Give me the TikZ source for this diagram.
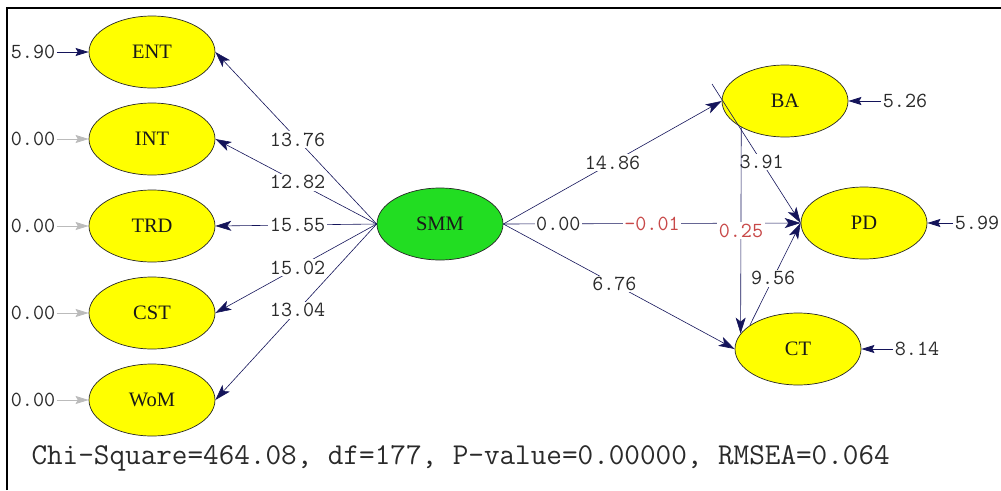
\documentclass[tikz,border=0pt]{standalone}
\usepackage{fontspec}
\usepackage{tikz}
\usetikzlibrary{arrows.meta, shapes.geometric, positioning}
\newfontfamily\latfont{Liberation Serif}
\definecolor{navy}{HTML}{14145A}
\definecolor{lisyellow}{HTML}{FFFF00}
\definecolor{lisgreen}{HTML}{22DD22}
\definecolor{labgray}{HTML}{2A2A2A}
\definecolor{nsred}{HTML}{C84848}
\definecolor{errgray}{HTML}{BBBBBB}

\tikzset{
  latent/.style={ellipse, draw=black!85, line width=0.7pt, fill=lisyellow,
    minimum width=126pt, minimum height=72pt, inner sep=0pt,
    font=\latfont\fontsize{20.5}{22}\selectfont, text=black!90},
  coef/.style={fill=white, inner sep=1.5pt, text=labgray,
    font=\ttfamily\fontsize{21.5}{23}\selectfont},
  pathline/.style={draw=navy, line width=0.6pt, -{Stealth[length=16pt,width=10pt,inset=4pt]}},
  errline/.style={draw=navy, line width=0.9pt, -{Stealth[length=13pt,width=8pt,inset=2pt]}},
  zeroline/.style={errline, draw=errgray}
}

\begin{document}
\begin{tikzpicture}[x=1pt, y=-1pt]
  \useasboundingbox (0,0) rectangle (1001,490);
  % frame
  \draw[line width=2pt] (7,490) -- (7,8) -- (1001,8);

  % exogenous side
  \node[latent] (ENT) at (152,52) {ENT};
  \node[latent] (INT) at (152,139) {INT};
  \node[latent] (TRD) at (152,226) {TRD};
  \node[latent] (CST) at (152,313) {CST};
  \node[latent] (WoM) at (152,400) {WoM};
  \node[latent, fill=lisgreen] (SMM) at (440,224) {SMM};

  % endogenous side
  \node[latent] (BA) at (785,101) {BA};
  \node[latent] (PD) at (864,223) {PD};
  \node[latent] (CT) at (798,349) {CT};

  % error terms
  \node[coef] (eENT) at (33,52) {5.90};
  \node[coef] (eINT) at (33,139) {0.00};
  \node[coef] (eTRD) at (33,226) {0.00};
  \node[coef] (eCST) at (33,313) {0.00};
  \node[coef] (eWoM) at (33,400) {0.00};
  \node[coef] (eBA) at (905,101) {5.26};
  \node[coef] (ePD) at (977,223) {5.99};
  \node[coef] (eCT) at (917,349) {8.14};

  \draw[errline] (eENT) -- (ENT);
  \draw[zeroline] (eINT) -- (INT);
  \draw[zeroline] (eTRD) -- (TRD);
  \draw[zeroline] (eCST) -- (CST);
  \draw[zeroline] (eWoM) -- (WoM);
  \draw[errline] (eBA) -- (BA);
  \draw[errline] (ePD) -- (PD);
  \draw[errline] (eCT) -- (CT);

  % SMM to its dimensions
  \draw[pathline] (SMM.west) -- node[coef, pos=0.49] {13.76} (ENT.east);
  \draw[pathline] (SMM.west) -- node[coef, pos=0.49] {12.82} (INT.east);
  \draw[pathline] (SMM.west) -- node[coef, pos=0.49] {15.55} (TRD.east);
  \draw[pathline] (SMM.west) -- node[coef, pos=0.49] {15.02} (CST.east);
  \draw[pathline] (SMM.west) -- node[coef, pos=0.49] {13.04} (WoM.east);

  % structural paths
  \coordinate (BAtail) at (712,84);
  \draw[pathline] (SMM.east) -- node[coef, pos=0.5] {14.86} (BA.west);
  \draw[pathline] (SMM.east) -- node[coef, pos=0.48] {6.76} (CT.west);
  \draw[pathline] (SMM.east) -- node[coef, pos=0.185] {0.00}
    node[coef, pos=0.5, text=nsred] {-0.01} (PD.west);
  \draw[pathline] (BAtail) -- node[coef, pos=0.56] {3.91} (PD.west);
  \draw[pathline] (BA.211) -- node[coef, pos=0.5, text=nsred] {0.25} (CT.165);
  \draw[pathline] (CT.154) -- node[coef, pos=0.46] {9.56} (PD.west);

  % fit statistics
  \node[anchor=west, text=labgray, font=\ttfamily\fontsize{30.3}{32}\selectfont]
    (fit) at (28,458) {Chi-Square=464.08, df=177, P-value=0.00000, RMSEA=0.064};
\end{tikzpicture}
\end{document}
